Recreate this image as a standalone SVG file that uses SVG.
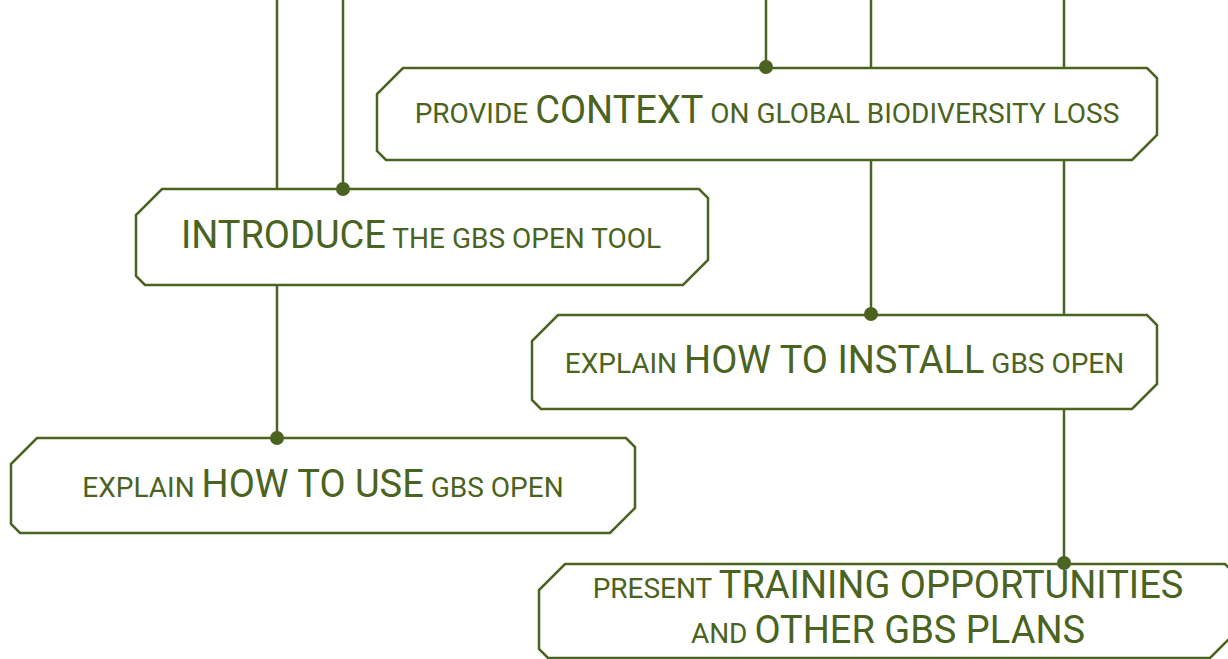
<svg xmlns="http://www.w3.org/2000/svg" width="1228" height="659" viewBox="0 0 1228 659">
<style>
.ln{stroke:#4b6320;stroke-width:2.5;fill:none}
.bx{stroke:#4b6320;stroke-width:2.5;fill:#ffffff;stroke-linejoin:miter}
.dot{fill:#4b6320}
.t{font-family:Roboto,"Liberation Sans",sans-serif;fill:#4b6320;text-anchor:middle;font-size:28px}
.b{font-size:38px}
</style>
<rect width="1228" height="659" fill="#ffffff"/>
<g id="connectors">
<line class="ln" x1="277" y1="0" x2="277" y2="438"/>
<line class="ln" x1="343" y1="0" x2="343" y2="189"/>
<line class="ln" x1="766" y1="0" x2="766" y2="68"/>
<line class="ln" x1="871" y1="0" x2="871" y2="315"/>
<line class="ln" x1="1064" y1="0" x2="1064" y2="564"/>
</g>
<g id="context">
<path class="bx" d="M403,68 H1147 L1157,78 V135 L1132,160 H386 L377,151 V94 Z"/>
<text class="t" x="767" y="123">PROVIDE <tspan class="b">CONTEXT</tspan> ON GLOBAL BIODIVERSITY LOSS</text>
</g>
<g id="introduce">
<path class="bx" d="M162,189 H699 L708,198 V260 L683,285 H145 L136,276 V215 Z"/>
<text class="t" x="421" y="248"><tspan class="b">INTRODUCE</tspan> THE GBS OPEN TOOL</text>
</g>
<g id="install">
<path class="bx" d="M558,315 H1147 L1157,325 V384 L1132,409 H541 L532,400 V341 Z"/>
<text class="t" x="844.5" y="373">EXPLAIN <tspan class="b">HOW TO INSTALL</tspan> GBS OPEN</text>
</g>
<g id="use">
<path class="bx" d="M37,438 H626 L635,447 V508 L610,533 H20 L11,524 V464 Z"/>
<text class="t" x="323" y="497">EXPLAIN <tspan class="b">HOW TO USE</tspan> GBS OPEN</text>
</g>
<g id="present">
<path class="bx" d="M565,564 H1225 L1235,574 V633 L1210,658 H548 L539,649 V590 Z"/>
<text class="t" x="888" y="598">PRESENT <tspan class="b">TRAINING OPPORTUNITIES</tspan></text>
<text class="t" x="888" y="643">AND <tspan class="b">OTHER GBS PLANS</tspan></text>
</g>
<g id="dots">
<circle class="dot" cx="277" cy="438" r="7"/>
<circle class="dot" cx="343" cy="189" r="7"/>
<circle class="dot" cx="766" cy="67" r="7"/>
<circle class="dot" cx="871" cy="314" r="7"/>
<circle class="dot" cx="1064" cy="563" r="7"/>
</g>
</svg>
